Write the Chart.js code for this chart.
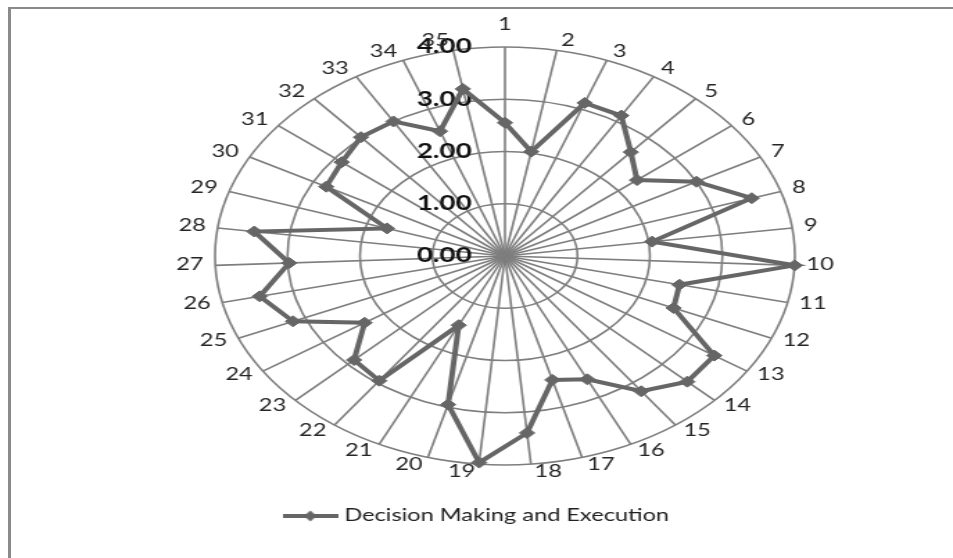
<!DOCTYPE html>
<html>
<head>
<meta charset="utf-8">
<title>Decision Making and Execution</title>
<script src="https://cdn.jsdelivr.net/npm/chart.js@4.4.1/dist/chart.umd.min.js"></script>
<style>
  html, body { margin: 0; padding: 0; background: #fff; }
  body { width: 953px; height: 558px; position: relative; overflow: hidden; }
  /* chart-area frame: only the top and left edges are visible */
  #frame {
    position: absolute; left: 8px; top: 7px; right: 0; bottom: 0;
    border-top: 2px solid #8a8a8a; border-left: 3px solid #8a8a8a;
  }
  /* the radar is drawn round and widened to an ellipse */
  #stage {
    position: absolute; left: 0; top: 0; width: 687px; height: 558px;
    transform: scaleX(1.3872); transform-origin: 0 0;
  }
</style>
</head>
<body>
<div id="frame"></div>
<div id="stage"><canvas id="chart" width="687" height="558"></canvas></div>
<script>
// Items 1..35 around the radar
const categories = [
  '1', '2', '3', '4', '5', '6', '7', '8', '9', '10',
  '11', '12', '13', '14', '15', '16', '17', '18', '19', '20',
  '21', '22', '23', '24', '25', '26', '27', '28', '29', '30',
  '31', '32', '33', '34', '35'
];

// Mean score per item
const scores = [
  2.55, 2.03, 3.13, 3.13, 2.64, 2.33, 3.00, 3.58, 2.05, 4.00,
  2.47, 2.53, 3.46, 3.48, 3.20, 2.62, 2.46, 3.40, 3.97, 2.95,
  1.47, 2.95, 2.88, 2.32, 3.18, 3.47, 2.98, 3.49, 1.71, 2.80,
  2.88, 3.02, 3.00, 2.55, 3.25
];

// Value axis labels
const tickLabels = ['0.00', '1.00', '2.00', '3.00', '4.00'];

const seriesName = 'Decision Making and Execution';

const seriesColor = '#666666';
const gridColor = '#7e7e7e';
const FONT = 'Lato, "DejaVu Sans", sans-serif';

Chart.defaults.font.family = FONT;

// Legend symbol: a short line with a diamond in the middle
function legendSymbol() {
  const c = document.createElement('canvas');
  c.width = 40; c.height = 12;
  const g = c.getContext('2d');
  g.strokeStyle = seriesColor;
  g.lineWidth = 4;
  g.beginPath(); g.moveTo(0, 6); g.lineTo(40, 6); g.stroke();
  g.fillStyle = seriesColor;
  g.beginPath();
  g.moveTo(20, 0.5); g.lineTo(24.5, 6); g.lineTo(20, 11.5); g.lineTo(15.5, 6);
  g.closePath(); g.fill();
  return c;
}

// Value labels sit to the left of the vertical spoke, right-aligned
const valueAxisLabels = {
  id: 'valueAxisLabels',
  beforeDatasetsDraw(chart) {
    const r = chart.scales.r;
    const ctx = chart.ctx;
    ctx.save();
    ctx.font = 'bold 20px ' + FONT;
    ctx.fillStyle = '#111111';
    ctx.textAlign = 'right';
    ctx.textBaseline = 'middle';
    r.ticks.forEach(t => {
      const d = r.getDistanceFromCenterForValue(t.value);
      ctx.fillText(t.label, r.xCenter - 24, r.yCenter - d);
    });
    ctx.restore();
  }
};

// Item numbers just outside the outer ring, vertically centred on each spoke end
const itemLabels = {
  id: 'itemLabels',
  beforeDatasetsDraw(chart) {
    const r = chart.scales.r;
    const ctx = chart.ctx;
    ctx.save();
    ctx.font = '17px ' + FONT;
    ctx.fillStyle = '#262626';
    ctx.textBaseline = 'middle';
    chart.data.labels.forEach((text, i) => {
      const a = r.getIndexAngle(i);
      const s = Math.sin(a), c = Math.cos(a);
      const p = r.getPointPosition(i, r.drawingArea);
      let x = p.x;
      let y = p.y - 8.5 * c - 1;
      if (Math.abs(s) < 1e-6) {
        ctx.textAlign = 'center';
        y = p.y - (c > 0 ? 22 : -10);
      } else if (s > 0) {
        ctx.textAlign = 'left';
        x = p.x + 2 + 6.5 * s;
      } else {
        ctx.textAlign = 'right';
        x = p.x - 2 + 6.5 * s;
      }
      ctx.fillText(text, x, y);
    });
    ctx.restore();
  }
};

// Legend is centred on the whole frame, a little left of the radar centre
const legendOffset = {
  id: 'legendOffset',
  afterLayout(chart) {
    chart.legend.left -= 19;
    chart.legend.right -= 19;
  }
};

new Chart(document.getElementById('chart'), {
  type: 'radar',
  data: {
    labels: categories,
    datasets: [{
      label: seriesName,
      data: scores,
      borderColor: seriesColor,
      backgroundColor: seriesColor,
      borderWidth: 4,
      fill: false,
      tension: 0,
      pointStyle: 'rectRot',
      pointRadius: 5.5,
      pointHoverRadius: 5.5,
      pointBackgroundColor: seriesColor,
      pointBorderColor: seriesColor,
      pointBorderWidth: 1
    }]
  },
  options: {
    responsive: false,
    animation: false,
    layout: { padding: { left: 41, right: 0, top: 47, bottom: 23.5 } },
    scales: {
      r: {
        min: 0,
        max: 4,
        ticks: {
          stepSize: 1,
          display: false,
          callback: (v, i) => tickLabels[i]
        },
        grid: { circular: true, color: gridColor, lineWidth: 1.6 },
        angleLines: { color: gridColor, lineWidth: 1.6 },
        pointLabels: { display: false }
      }
    },
    plugins: {
      tooltip: { enabled: false },
      legend: {
        position: 'bottom',
        labels: {
          usePointStyle: true,
          pointStyle: legendSymbol(),
          pointStyleWidth: 32,
          padding: 42.5,
          color: '#222222',
          font: { size: 17 }
        }
      }
    }
  },
  plugins: [valueAxisLabels, itemLabels, legendOffset]
});
</script>
</body>
</html>
